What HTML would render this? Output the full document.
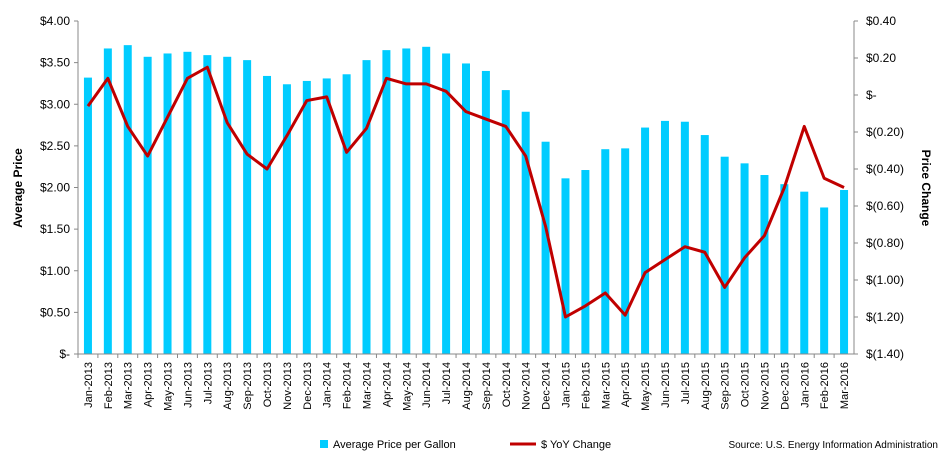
<!DOCTYPE html>
<html><head><meta charset="utf-8"><style>
body{margin:0;background:#fff;font-family:"Liberation Sans",sans-serif}
svg text{font-family:"Liberation Sans",sans-serif;fill:#000}
</style></head><body>
<svg width="950" height="470">
<g id="g"></g>
</svg>
<script>
const months=["Jan-2013","Feb-2013","Mar-2013","Apr-2013","May-2013","Jun-2013","Jul-2013","Aug-2013","Sep-2013","Oct-2013","Nov-2013","Dec-2013","Jan-2014","Feb-2014","Mar-2014","Apr-2014","May-2014","Jun-2014","Jul-2014","Aug-2014","Sep-2014","Oct-2014","Nov-2014","Dec-2014","Jan-2015","Feb-2015","Mar-2015","Apr-2015","May-2015","Jun-2015","Jul-2015","Aug-2015","Sep-2015","Oct-2015","Nov-2015","Dec-2015","Jan-2016","Feb-2016","Mar-2016"];
const prices=[3.32,3.67,3.71,3.57,3.61,3.63,3.59,3.57,3.53,3.34,3.24,3.28,3.31,3.36,3.53,3.65,3.67,3.69,3.61,3.49,3.40,3.17,2.91,2.55,2.11,2.21,2.46,2.47,2.72,2.80,2.79,2.63,2.37,2.29,2.15,2.04,1.95,1.76,1.97];
const yoy=[-0.06,0.09,-0.17,-0.33,-0.12,0.09,0.15,-0.15,-0.32,-0.40,-0.22,-0.03,-0.01,-0.31,-0.18,0.09,0.06,0.06,0.02,-0.09,-0.13,-0.17,-0.33,-0.71,-1.20,-1.14,-1.07,-1.19,-0.96,-0.89,-0.82,-0.85,-1.04,-0.88,-0.76,-0.50,-0.17,-0.45,-0.50];
const leftTicks=["$-","$0.50","$1.00","$1.50","$2.00","$2.50","$3.00","$3.50","$4.00"];
const rightTicks=["$(1.40)","$(1.20)","$(1.00)","$(0.80)","$(0.60)","$(0.40)","$(0.20)","$-","$0.20","$0.40"];
const X0=78,X1=854,Y0=354,Y1=21;
const cw=(X1-X0)/months.length;
const xc=i=>X0+cw*(i+0.5);
const yL=v=>Y0-(v/4)*(Y0-Y1);
const yR=v=>Y0-((v+1.4)/1.8)*(Y0-Y1);
const g=document.getElementById('g');const NS="http://www.w3.org/2000/svg";
function mk(t,a,txt){const e=document.createElementNS(NS,t);for(const k in a)e.setAttribute(k,a[k]);if(txt!=null)e.textContent=txt;g.appendChild(e);return e;}
prices.forEach((p,i)=>{const r=mk('rect',{x:xc(i)-4,y:yL(p),width:8,height:Y0-yL(p),fill:'#00CCFF'});

});
let l=mk('line',{x1:X0,y1:Y1,x2:X0,y2:Y0,stroke:'#888'});


l=mk('line',{x1:X0,y1:Y0,x2:X1,y2:Y0,stroke:'#888'});


l=mk('line',{x1:X1,y1:Y1,x2:X1,y2:Y0,stroke:'#888'});


leftTicks.forEach((t,i)=>{const y=Y0-i*(Y0-Y1)/8;mk('line',{x1:X0-4,y1:y,x2:X0,y2:y,stroke:'#888'});
const e=mk('text',{x:X0-8,y:y+4,'text-anchor':'end','font-size':12},t);

});
rightTicks.forEach((t,i)=>{const y=Y0-i*(Y0-Y1)/9;mk('line',{x1:X1,y1:y,x2:X1+4,y2:y,stroke:'#888'});
const e=mk('text',{x:X1+12,y:y+4,'font-size':12},t);

});
months.forEach((m,i)=>{mk('line',{x1:X0+cw*i,y1:Y0,x2:X0+cw*i,y2:Y0+4,stroke:'#888'});
const x=xc(i)+4;const e=mk('text',{x:x,y:Y0+8,'text-anchor':'end','font-size':11,transform:`rotate(-90 ${x} ${Y0+8})`},m);

});
const pl=mk('polyline',{points:yoy.map((v,i)=>xc(i)+','+yR(v)).join(' '),fill:'none',stroke:'#C00000','stroke-width':3,'stroke-linejoin':'round'});


let t=mk('text',{x:22,y:188,'text-anchor':'middle','font-size':12,'font-weight':'bold',transform:'rotate(-90 22 188)'},'Average Price');


t=mk('text',{x:922,y:188,'text-anchor':'middle','font-size':12,'font-weight':'bold',transform:'rotate(90 922 188)'},'Price Change');


let s=mk('rect',{x:320,y:440,width:8,height:8,fill:'#00CCFF'});


t=mk('text',{x:333,y:448,'font-size':11},'Average Price per Gallon');


s=mk('line',{x1:510,y1:444,x2:536,y2:444,stroke:'#C00000','stroke-width':3});


t=mk('text',{x:541,y:448,'font-size':11},'$ YoY Change');


t=mk('text',{x:938,y:448,'text-anchor':'end','font-size':10},'Source: U.S. Energy Information Administration');


</script>
</body></html>
